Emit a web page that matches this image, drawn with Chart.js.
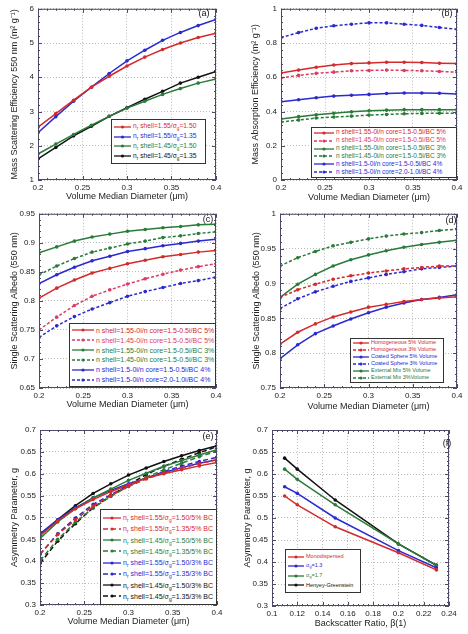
<!DOCTYPE html>
<html>
<head>
<meta charset="utf-8">
<script src="https://cdn.jsdelivr.net/npm/chart.js@4.4.1/dist/chart.umd.min.js"></script>
<style>
  body { margin: 0; background: #fff; font-family: "Liberation Sans", Arial, sans-serif; }
  #fig { position: relative; width: 468px; height: 634px; overflow: hidden; }
  .panel { position: absolute; }
  .legend { position: absolute; background: #fff; border: 1px solid #333; box-sizing: border-box;
            display: flex; flex-direction: column; justify-content: space-evenly; padding: 0 2px; }
  .row { display: flex; align-items: center; white-space: nowrap; line-height: 1; }
  .row svg { flex: none; margin-right: 2px; }
  .row sub { font-size: 70%; vertical-align: -0.35em; line-height: 0; }
  .tag { position: absolute; font-size: 9px; color: #111; transform: translate(-50%, -50%); }
</style>
</head>
<body>
<div id="fig"></div>
<script>
// x values for panels a-e
const diameter = [0.2, 0.22, 0.24, 0.26, 0.28, 0.3, 0.32, 0.34, 0.36, 0.38, 0.4];

// (a) mass scattering efficiency
const mseR155S150 = [2.54, 2.94, 3.33, 3.71, 4.03, 4.33, 4.59, 4.81, 5.0, 5.16, 5.29];
const mseR155S135 = [2.38, 2.85, 3.30, 3.71, 4.11, 4.48, 4.79, 5.08, 5.31, 5.51, 5.69];
const mseR145S150 = [1.76, 2.05, 2.33, 2.60, 2.86, 3.10, 3.30, 3.50, 3.67, 3.83, 3.95];
const mseR145S135 = [1.62, 1.95, 2.29, 2.57, 2.86, 3.11, 3.36, 3.59, 3.83, 4.00, 4.17];

// (b) mass absorption efficiency
const maeS155Bc5 = [0.625, 0.642, 0.659, 0.672, 0.680, 0.684, 0.688, 0.688, 0.686, 0.682, 0.680];
const maeS145Bc5 = [0.596, 0.611, 0.623, 0.630, 0.638, 0.640, 0.642, 0.640, 0.638, 0.634, 0.630];
const maeS155Bc3 = [0.356, 0.370, 0.381, 0.390, 0.398, 0.404, 0.408, 0.411, 0.411, 0.411, 0.411];
const maeS145Bc3 = [0.339, 0.350, 0.362, 0.368, 0.373, 0.379, 0.383, 0.387, 0.389, 0.390, 0.390];
const maeS150Bc4 = [0.457, 0.469, 0.480, 0.490, 0.495, 0.500, 0.505, 0.508, 0.508, 0.507, 0.503];
const maeS150C20 = [0.832, 0.861, 0.886, 0.901, 0.910, 0.918, 0.918, 0.910, 0.903, 0.891, 0.880];

// (c) single scattering albedo, core/shell cases
const ssaS155Bc5 = [0.805, 0.822, 0.836, 0.848, 0.856, 0.864, 0.870, 0.876, 0.880, 0.884, 0.887];
const ssaS145Bc5 = [0.750, 0.772, 0.792, 0.808, 0.819, 0.829, 0.838, 0.846, 0.853, 0.859, 0.864];
const ssaS155Bc3 = [0.883, 0.893, 0.903, 0.910, 0.915, 0.920, 0.923, 0.926, 0.928, 0.931, 0.932];
const ssaS145Bc3 = [0.845, 0.860, 0.873, 0.884, 0.891, 0.898, 0.903, 0.909, 0.912, 0.916, 0.919];
const ssaS150Bc4 = [0.830, 0.845, 0.858, 0.869, 0.877, 0.885, 0.890, 0.895, 0.899, 0.903, 0.906];
const ssaS150C20 = [0.737, 0.757, 0.773, 0.786, 0.797, 0.808, 0.816, 0.823, 0.830, 0.835, 0.841];

// (d) single scattering albedo, mixing states
const ssaHomog5 = [0.813, 0.830, 0.842, 0.852, 0.859, 0.866, 0.870, 0.874, 0.877, 0.879, 0.881];
const ssaHomog3 = [0.880, 0.891, 0.899, 0.906, 0.911, 0.915, 0.918, 0.921, 0.923, 0.925, 0.925];
const ssaCoated5 = [0.792, 0.812, 0.828, 0.839, 0.849, 0.858, 0.866, 0.872, 0.877, 0.880, 0.884];
const ssaCoated3 = [0.864, 0.878, 0.888, 0.896, 0.903, 0.908, 0.913, 0.917, 0.921, 0.923, 0.925];
const ssaExt5 = [0.880, 0.899, 0.913, 0.925, 0.934, 0.941, 0.947, 0.952, 0.956, 0.959, 0.962];
const ssaExt3 = [0.925, 0.937, 0.946, 0.954, 0.959, 0.964, 0.968, 0.971, 0.973, 0.976, 0.978];

// (e) asymmetry parameter
const gR155S150Bc5 = [0.459, 0.492, 0.520, 0.541, 0.559, 0.575, 0.590, 0.600, 0.609, 0.618, 0.626];
const gR155S135Bc5 = [0.416, 0.461, 0.495, 0.526, 0.550, 0.571, 0.588, 0.602, 0.613, 0.623, 0.632];
const gR145S150Bc5 = [0.452, 0.490, 0.520, 0.545, 0.565, 0.585, 0.601, 0.617, 0.630, 0.643, 0.655];
const gR145S135Bc5 = [0.401, 0.450, 0.489, 0.522, 0.548, 0.571, 0.592, 0.609, 0.624, 0.639, 0.652];
const gR155S150Bc3 = [0.463, 0.495, 0.522, 0.545, 0.562, 0.577, 0.590, 0.603, 0.614, 0.624, 0.632];
const gR155S135Bc3 = [0.416, 0.463, 0.499, 0.530, 0.552, 0.573, 0.590, 0.605, 0.618, 0.628, 0.638];
const gR145S150Bc3 = [0.459, 0.495, 0.527, 0.555, 0.577, 0.597, 0.613, 0.628, 0.641, 0.653, 0.664];
const gR145S135Bc3 = [0.395, 0.446, 0.486, 0.522, 0.550, 0.575, 0.598, 0.617, 0.633, 0.648, 0.662];

// (f) asymmetry parameter vs backscatter ratio
const backscatter = [0.11, 0.12, 0.15, 0.2, 0.23];
const gMono = [0.550, 0.530, 0.480, 0.421, 0.382];
const gSigma13 = [0.571, 0.556, 0.500, 0.426, 0.387];
const gSigma17 = [0.611, 0.588, 0.530, 0.441, 0.392];
const gHenyey = [0.636, 0.611, 0.541, 0.441, 0.393];

const RED = '#d42a2a', PINK = '#de3a62', BLUE = '#2a2ad0', GREEN = '#2a7a38', BLACK = '#111';
const FRAME = '#4a4a66';

const nr = (s, g, bc) => `n<sub>r</sub> shell=${s}/σ<sub>g</sub>=${g}${bc ? '/' + bc + ' BC' : ''}`;

const panels = [
  {
    tag: '(a)', tagPos: [204, 13],
    box: { left: 0, top: 0, w: 234, h: 205, yW: 38, padTop: 5, padRight: 18, xH: 25, yTitleX: 15, xTitleY: 197 },
    xs: diameter, x: { min: 0.2, max: 0.4, step: 0.05 }, y: { min: 1, max: 6, step: 1 },
    xTitle: 'Volume Median Diameter (μm)', yTitle: 'Mass Scattering Efficiency 550 nm (m² g⁻¹)',
    legend: { left: 111, top: 119, w: 95, h: 45, fs: 6.7, sw: 17 },
    series: [
      { label: nr('1.55', '1.50'), data: mseR155S150, color: RED },
      { label: nr('1.55', '1.35'), data: mseR155S135, color: BLUE },
      { label: nr('1.45', '1.50'), data: mseR145S150, color: GREEN },
      { label: nr('1.45', '1.35'), data: mseR145S135, color: BLACK }
    ]
  },
  {
    tag: '(b)', tagPos: [447, 13],
    box: { left: 234, top: 0, w: 234, h: 205, yW: 47, padTop: 5, padRight: 11, xH: 25, yTitleX: 22, xTitleY: 198 },
    xs: diameter, x: { min: 0.2, max: 0.4, step: 0.05 }, y: { min: 0, max: 1, step: 0.2 },
    xTitle: 'Volume Median Diameter (μm)', yTitle: 'Mass Absorption Efficiency (m² g⁻¹)',
    legend: { left: 311, top: 127, w: 146, h: 51, fs: 6.5, sw: 20 },
    series: [
      { label: 'n shell=1.55-0i/n core=1.5-0.5i/BC 5%', data: maeS155Bc5, color: RED },
      { label: 'n shell=1.45-0i/n core=1.5-0.5i/BC 5%', data: maeS145Bc5, color: PINK, dash: [3, 2] },
      { label: 'n shell=1.55-0i/n core=1.5-0.5i/BC 3%', data: maeS155Bc3, color: GREEN },
      { label: 'n shell=1.45-0i/n core=1.5-0.5i/BC 3%', data: maeS145Bc3, color: GREEN, dash: [3, 2] },
      { label: 'n shell=1.5-0i/n core=1.5-0.5i/BC 4%', data: maeS150Bc4, color: BLUE },
      { label: 'n shell=1.5-0i/n core=2.0-1.0i/BC 4%', data: maeS150C20, color: BLUE, dash: [3, 2] }
    ]
  },
  {
    tag: '(c)', tagPos: [208, 219],
    box: { left: 0, top: 205, w: 234, h: 207, yW: 39, padTop: 7, padRight: 18, xH: 24, yTitleX: 15, xTitleY: 405 },
    xs: diameter, x: { min: 0.2, max: 0.4, step: 0.05 }, y: { min: 0.65, max: 0.95, step: 0.05 },
    xTitle: 'Volume Median Diameter (μm)', yTitle: 'Single Scattering Albedo (550 nm)',
    legend: { left: 69, top: 323, w: 147, h: 64, fs: 7, sw: 22 },
    series: [
      { label: 'n shell=1.55-0i/n core=1.5-0.5i/BC 5%', data: ssaS155Bc5, color: RED },
      { label: 'n shell=1.45-0i/n core=1.5-0.5i/BC 5%', data: ssaS145Bc5, color: PINK, dash: [3, 2] },
      { label: 'n shell=1.55-0i/n core=1.5-0.5i/BC 3%', data: ssaS155Bc3, color: GREEN },
      { label: 'n shell=1.45-0i/n core=1.5-0.5i/BC 3%', data: ssaS145Bc3, color: GREEN, dash: [3, 2] },
      { label: 'n shell=1.5-0i/n core=1.5-0.5i/BC 4%', data: ssaS150Bc4, color: BLUE },
      { label: 'n shell=1.5-0i/n core=2.0-1.0i/BC 4%', data: ssaS150C20, color: BLUE, dash: [3, 2] }
    ]
  },
  {
    tag: '(d)', tagPos: [451, 220],
    box: { left: 234, top: 205, w: 234, h: 209, yW: 46, padTop: 8, padRight: 11, xH: 26, yTitleX: 23, xTitleY: 407 },
    xs: diameter, x: { min: 0.2, max: 0.4, step: 0.05 }, y: { min: 0.75, max: 1, step: 0.05 },
    xTitle: 'Volume Median Diameter (μm)', yTitle: 'Single Scattering Albedo (550 nm)',
    legend: { left: 350, top: 338, w: 94, h: 45, fs: 5.5, sw: 16 },
    series: [
      { label: 'Homogeneous 5% Volume', data: ssaHomog5, color: RED },
      { label: 'Homogeneous 3% Volume', data: ssaHomog3, color: RED, dash: [3, 2] },
      { label: 'Coated Sphere 5% Volume', data: ssaCoated5, color: BLUE },
      { label: 'Coated Sphere 3% Volume', data: ssaCoated3, color: BLUE, dash: [3, 2] },
      { label: 'External Mix 5% Volume', data: ssaExt5, color: GREEN },
      { label: 'External Mix 3%Volume', data: ssaExt3, color: GREEN, dash: [3, 2] }
    ]
  },
  {
    tag: '(e)', tagPos: [208, 436],
    box: { left: 0, top: 410, w: 234, h: 224, yW: 40, padTop: 20, padRight: 17, xH: 29, yTitleX: 15, xTitleY: 622 },
    xs: diameter, x: { min: 0.2, max: 0.4, step: 0.05 }, y: { min: 0.3, max: 0.7, step: 0.05 },
    xTitle: 'Volume Median Diameter (μm)', yTitle: 'Asymmetry Parameter, g',
    legend: { left: 100, top: 509, w: 117, h: 96, fs: 7, sw: 18 },
    series: [
      { label: nr('1.55', '1.50', '5%'), data: gR155S150Bc5, color: RED },
      { label: nr('1.55', '1.35', '5%'), data: gR155S135Bc5, color: RED, dash: [5, 3] },
      { label: nr('1.45', '1.50', '5%'), data: gR145S150Bc5, color: GREEN },
      { label: nr('1.45', '1.35', '5%'), data: gR145S135Bc5, color: GREEN, dash: [5, 3] },
      { label: nr('1.55', '1.50', '3%'), data: gR155S150Bc3, color: BLUE },
      { label: nr('1.55', '1.35', '3%'), data: gR155S135Bc3, color: BLUE, dash: [5, 3] },
      { label: nr('1.45', '1.50', '3%'), data: gR145S150Bc3, color: BLACK },
      { label: nr('1.45', '1.35', '3%'), data: gR145S135Bc3, color: BLACK, dash: [5, 3] }
    ]
  },
  {
    tag: '(f)', tagPos: [447, 443],
    box: { left: 234, top: 410, w: 234, h: 224, yW: 38, padTop: 20, padRight: 19, xH: 28, yTitleX: 14, xTitleY: 624 },
    xs: backscatter, x: { min: 0.1, max: 0.24, step: 0.02 }, y: { min: 0.3, max: 0.7, step: 0.05 },
    xTitle: 'Backscatter Ratio, β(1)', yTitle: 'Asymmetry Parameter, g',
    legend: { left: 285, top: 549, w: 76, h: 44, fs: 5.5, sw: 16 },
    series: [
      { label: 'Monodispersed', data: gMono, color: RED },
      { label: 'σ<sub>g</sub>=1.3', data: gSigma13, color: BLUE },
      { label: 'σ<sub>g</sub>=1.7', data: gSigma17, color: GREEN },
      { label: 'Henyey-Greenstein', data: gHenyey, color: BLACK }
    ]
  }
];

// box around the plot area with small inward tick marks
const framePlugin = {
  id: 'frame',
  afterDraw(chart) {
    const { ctx, chartArea: a, scales } = chart;
    ctx.save();
    ctx.strokeStyle = FRAME;
    ctx.lineWidth = 1;
    ctx.strokeRect(a.left + 0.5, a.top + 0.5, a.width - 1, a.height - 1);
    const marks = (scale, horiz) => {
      const vals = scale.ticks.map(t => t.value);
      const list = [];
      vals.forEach((v, i) => {
        list.push([v, 4]);
        if (i < vals.length - 1) {
          for (let k = 1; k < 5; k++) list.push([v + (vals[i + 1] - v) * k / 5, 2]);
        }
      });
      ctx.beginPath();
      list.forEach(([v, len]) => {
        const p = Math.round(scale.getPixelForValue(v)) + 0.5;
        if (horiz) {
          ctx.moveTo(p, a.bottom); ctx.lineTo(p, a.bottom - len);
          ctx.moveTo(p, a.top); ctx.lineTo(p, a.top + len);
        } else {
          ctx.moveTo(a.left, p); ctx.lineTo(a.left + len, p);
          ctx.moveTo(a.right, p); ctx.lineTo(a.right - len, p);
        }
      });
      ctx.stroke();
    };
    marks(scales.x, true);
    marks(scales.y, false);
    ctx.restore();
  }
};

const fmt = v => String(Number(v.toFixed(3)));
const tickFont = { family: '"Liberation Sans", Arial, sans-serif', size: 8 };
const titleFont = { family: '"Liberation Sans", Arial, sans-serif', size: 9 };

function makePanel(p) {
  const fig = document.getElementById('fig');
  const b = p.box;
  const wrap = document.createElement('div');
  wrap.className = 'panel';
  wrap.style.left = b.left + 'px';
  wrap.style.top = b.top + 'px';
  const canvas = document.createElement('canvas');
  canvas.width = b.w;
  canvas.height = b.h;
  canvas.style.width = b.w + 'px';
  canvas.style.height = b.h + 'px';
  wrap.appendChild(canvas);
  fig.appendChild(wrap);

  const lh = titleFont.size * 1.2;

  new Chart(canvas, {
    type: 'line',
    data: {
      datasets: p.series.map(s => ({
        data: p.xs.map((x, i) => ({ x: x, y: s.data[i] })),
        borderColor: s.color,
        backgroundColor: s.color,
        borderDash: s.dash || [],
        borderWidth: 1.5,
        pointRadius: 1.8,
        pointBorderWidth: 0,
        tension: 0
      }))
    },
    options: {
      responsive: false,
      animation: false,
      layout: { padding: { top: b.padTop, right: b.padRight, left: 0, bottom: 0 } },
      plugins: { legend: { display: false }, tooltip: { enabled: false } },
      scales: {
        x: {
          type: 'linear', min: p.x.min, max: p.x.max,
          ticks: { stepSize: p.x.step, padding: 3, font: tickFont, color: '#222', callback: fmt, maxRotation: 0, autoSkip: false },
          grid: { color: '#aaa', drawTicks: false, lineWidth: 0.8 },
          border: { display: false, dash: [1, 2] },
          title: { display: true, text: p.xTitle, font: titleFont, color: '#222',
                   padding: { top: 0, bottom: b.h - (b.xTitleY - b.top) - lh / 2 } },
          afterFit: s => { s.height = b.xH; }
        },
        y: {
          type: 'linear', min: p.y.min, max: p.y.max,
          ticks: { stepSize: p.y.step, padding: 4, font: tickFont, color: '#222', callback: fmt },
          grid: { color: '#aaa', drawTicks: false, lineWidth: 0.8 },
          border: { display: false, dash: [1, 2] },
          title: { display: true, text: p.yTitle, font: titleFont, color: '#222',
                   padding: { top: b.yTitleX - lh / 2, bottom: 0 } },
          afterFit: s => { s.width = b.yW; }
        }
      }
    },
    plugins: [framePlugin]
  });

  // legend box inside the plot
  const L = p.legend;
  const leg = document.createElement('div');
  leg.className = 'legend';
  Object.assign(leg.style, { left: L.left + 'px', top: L.top + 'px', width: L.w + 'px', height: L.h + 'px', fontSize: L.fs + 'px' });
  leg.innerHTML = p.series.map(s => {
    const dash = s.dash ? `stroke-dasharray="${s.dash.join(' ')}"` : '';
    return `<div class="row" style="color:${s.color}">` +
      `<svg width="${L.sw}" height="6"><line x1="0" y1="3" x2="${L.sw}" y2="3" stroke="${s.color}" stroke-width="1.3" ${dash}/>` +
      `<circle cx="${L.sw / 2}" cy="3" r="1.6" fill="${s.color}"/></svg><span>${s.label}</span></div>`;
  }).join('');
  fig.appendChild(leg);

  const tag = document.createElement('div');
  tag.className = 'tag';
  tag.style.left = p.tagPos[0] + 'px';
  tag.style.top = p.tagPos[1] + 'px';
  tag.textContent = p.tag;
  fig.appendChild(tag);
}

panels.forEach(makePanel);
</script>
</body>
</html>
